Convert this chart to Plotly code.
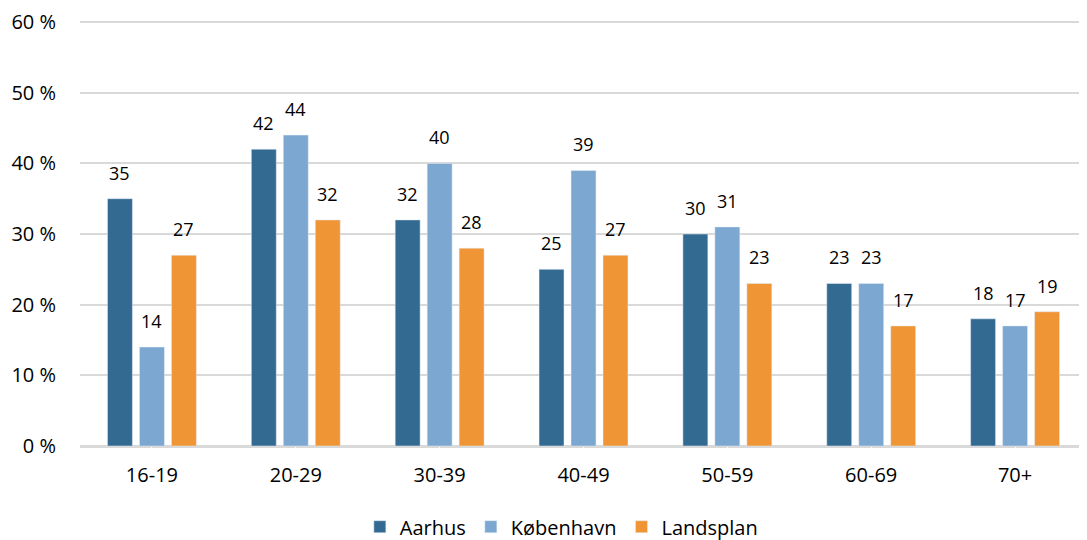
import plotly.graph_objects as go

categories = ["16-19", "20-29", "30-39", "40-49", "50-59", "60-69", "70+"]
aarhus = [35, 42, 32, 25, 30, 23, 18]
kobenhavn = [14, 44, 40, 39, 31, 23, 17]
landsplan = [27, 32, 28, 27, 23, 17, 19]
series_names = ["Aarhus", "København", "Landsplan"]
colors = ["#336A92", "#7BA7D0", "#EF9535"]
y_ticks = [0, 10, 20, 30, 40, 50, 60]

FONT = "Open Sans"
fig = go.Figure()
series = [aarhus, kobenhavn, landsplan]
for name, vals, col in zip(series_names, series, colors):
    fig.add_trace(go.Bar(x=categories, y=vals, name=name, marker_color=col))

slot = 32
for i, vals in enumerate(series):
    for c, v in zip(categories, vals):
        fig.add_annotation(x=c, y=v, text=str(v), showarrow=False,
                           xshift=(i - 1) * slot, yshift=26, yanchor="middle",
                           font=dict(size=18, family=FONT, color="#000000"))

# page has an 8px body margin, so the figure is sized to fit the 1087x540 window
fig.update_layout(
    width=1079, height=532,
    paper_bgcolor="white", plot_bgcolor="white",
    margin=dict(l=72, r=0, t=7, b=94, autoexpand=False),
    barmode="group", bargap=0.333, bargroupgap=0.22,
    font=dict(family=FONT, size=20, color="#000000"),
    legend=dict(orientation="h", x=0.478, xanchor="center", y=-0.142, yanchor="top",
                font=dict(size=20, family=FONT), traceorder="normal",
                itemwidth=30, tracegroupgap=0),
    yaxis=dict(range=[0, 61], tickvals=y_ticks, ticktext=[f"{t} %" for t in y_ticks],
               showgrid=True, gridcolor="#D9D9D9", gridwidth=2, zeroline=True,
               zerolinecolor="#D9D9D9", zerolinewidth=3, automargin=False,
               tickfont=dict(size=20), ticks="outside", ticklen=19, tickcolor="white",
               fixedrange=True),
    xaxis=dict(showline=False, ticks="outside", ticklen=11, tickcolor="white",
               tickfont=dict(size=20), automargin=False),
)
fig.write_html("out.html")
